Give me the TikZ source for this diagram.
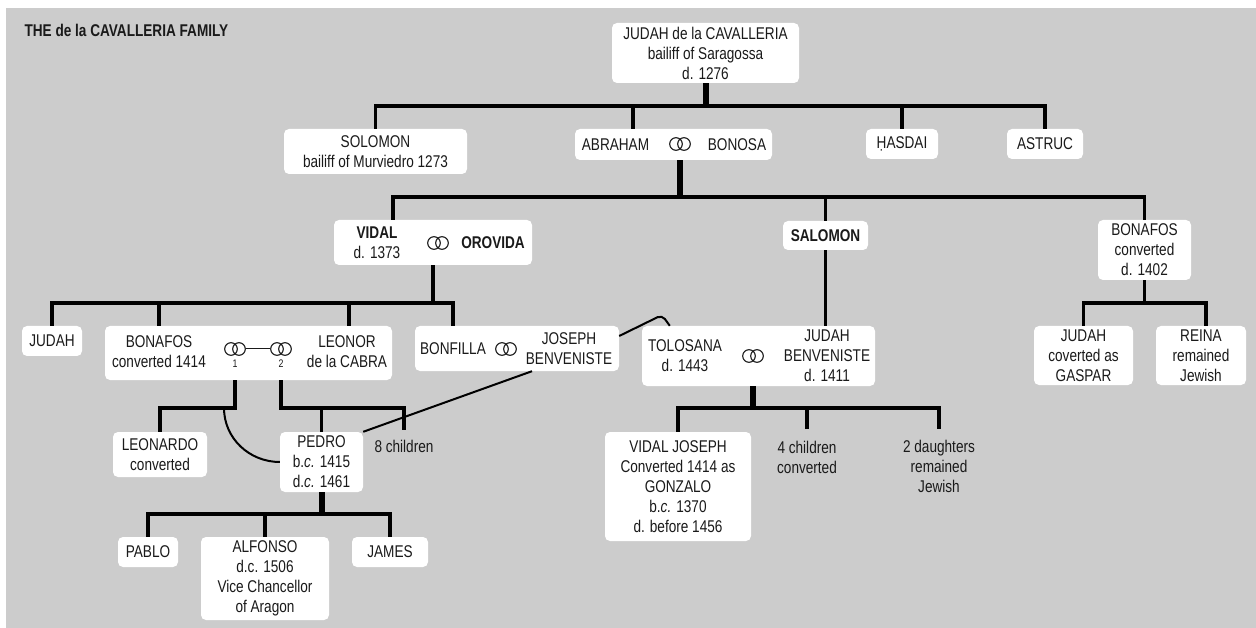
\documentclass[tikz,border=0pt]{standalone}
\usepackage{fontspec}
\setmainfont{Liberation Sans}[FakeStretch=0.8]
\usepackage{tikz}
\usetikzlibrary{positioning}
\definecolor{panel}{HTML}{CCCCCC}
\definecolor{ink}{HTML}{1A1A1A}
\tikzstyle{person} = [rectangle, rounded corners=5pt, fill=white, align=center, inner sep=0pt, text=ink, font=\fontsize{17}{20}\selectfont]
\tikzstyle{couple} = [rectangle, rounded corners=5pt, fill=white, inner sep=0pt]
\tikzstyle{who} = [align=center, inner sep=0pt, text=ink, font=\fontsize{17}{20}\selectfont]
\tikzstyle{rings} = [rectangle, minimum width=22pt, minimum height=15pt, inner sep=0pt, path picture={\draw[line width=1.1pt, ink] ([xshift=-4pt]path picture bounding box.center) circle (6.3pt) ([xshift=4pt]path picture bounding box.center) circle (6.3pt);}]
\tikzstyle{drop} = [line width=3.5pt, black]
\tikzstyle{trunk} = [line width=6pt, black]
\tikzstyle{tie} = [line width=2pt, black]

\begin{document}
\begin{tikzpicture}[x=1pt, y=-1pt]
	\useasboundingbox (0,0) rectangle (1256,628);
	\fill[panel] (6,8) rectangle (1256,628);

	\node (title) [anchor=west, text=ink, font=\bfseries\fontsize{17}{18}\selectfont] at (21,30) {THE de la CAVALLERIA FAMILY};

	% first generations
	\node (judah) [person, minimum width=187pt, minimum height=60pt] at (705.5,53) {JUDAH de la CAVALLERIA\\bailiff of Saragossa\\d. 1276};
	\node (solomon) [person, minimum width=183pt, minimum height=45pt] at (375.5,151.5) {SOLOMON\\bailiff of Murviedro 1273};
	\node (abrbox) [couple, minimum width=197pt, minimum height=31pt] at (673.5,144.5) {};
	\node (abraham) [who] at (615.5,145) {ABRAHAM};
	\node (abrR) [rings] at (680,144) {};
	\node (bonosa) [who] at (737,145) {BONOSA};
	\node (hasdai) [person, minimum width=72pt, minimum height=30pt] at (902,144) {ḤASDAI};
	\node (astruc) [person, minimum width=76pt, minimum height=30pt] at (1045,144) {ASTRUC};

	\node (vidalbox) [couple, minimum width=198pt, minimum height=45pt] at (433,242.5) {};
	\node (vidal) [who] at (377,243) {\textbf{VIDAL}\\d. 1373};
	\node (vidR) [rings] at (438,243) {};
	\node (orovida) [who, font=\bfseries\fontsize{17}{20}\selectfont] at (493,243) {OROVIDA};
	\node (salomon) [person, font=\bfseries\fontsize{17}{20}\selectfont, minimum width=85pt, minimum height=29pt] at (825.5,235.5) {SALOMON};
	\node (bonafos2) [person, minimum width=93pt, minimum height=60pt] at (1144.5,250) {BONAFOS\\converted\\d. 1402};

	% children of Vidal, Salomon and Bonafos
	\node (judah2) [person, minimum width=60pt, minimum height=30pt] at (52,341) {JUDAH};
	\node (bonleo) [couple, minimum width=287pt, minimum height=54pt] at (248.5,353) {};
	\node (bonafos1) [who] at (159,352) {BONAFOS\\converted 1414};
	\node (ring1) [rings] at (235,349) {};
	\node (ring2) [rings] at (281,349) {};
	\node (one) [who, font=\fontsize{11}{12}\selectfont, below=3pt of ring1] {1};
	\node (two) [who, font=\fontsize{11}{12}\selectfont, below=3pt of ring2] {2};
	\node (leonor) [who] at (347,352) {LEONOR\\de la CABRA};
	\node (bonjos) [couple, minimum width=204pt, minimum height=45pt] at (517,348.5) {};
	\node (bonfilla) [who] at (453,349) {BONFILLA};
	\node (bjR) [rings] at (506,349) {};
	\node (joseph) [who] at (569,348.5) {JOSEPH\\BENVENISTE};
	\node (tolbox) [couple, minimum width=233pt, minimum height=60pt] at (758.5,356) {};
	\node (tolosana) [who] at (685,356) {TOLOSANA\\d. 1443};
	\node (tjR) [rings] at (753,356) {};
	\node (judahb) [who] at (827,356) {JUDAH\\BENVENISTE\\d. 1411};
	\node (judah3) [person, minimum width=99pt, minimum height=59pt] at (1083.5,355.5) {JUDAH\\coverted as\\GASPAR};
	\node (reina) [person, minimum width=90pt, minimum height=59pt] at (1201,355.5) {REINA\\remained\\Jewish};

	% grandchildren
	\node (leonardo) [person, minimum width=94pt, minimum height=45pt] at (160,454.5) {LEONARDO\\converted};
	\node (pedro) [person, minimum width=83pt, minimum height=60pt] at (321.5,462) {PEDRO\\b.\textit{c.} 1415\\d.\textit{c.} 1461};
	\node (eight) [who] at (404,446) {8 children};
	\node (vidalj) [person, minimum width=146pt, minimum height=109pt] at (678,486.5) {VIDAL JOSEPH\\Converted 1414 as\\GONZALO\\b.\textit{c.} 1370\\d. before 1456};
	\node (four) [who] at (807,457.5) {4 children\\converted};
	\node (daughters) [who] at (939,466) {2 daughters\\remained\\Jewish};
	\node (pablo) [person, minimum width=60pt, minimum height=30pt] at (148,552) {PABLO};
	\node (alfonso) [person, minimum width=128pt, minimum height=83pt] at (265,578.5) {ALFONSO\\d.c. 1506\\Vice Chancellor\\of Aragon};
	\node (james) [person, minimum width=76pt, minimum height=30pt] at (390,552) {JAMES};
	\coordinate (kink) at (662,315);
	\coordinate (arcend) at (224,408);

	\draw [trunk] (judah.south) -- ++(0,23);
	\draw [drop] (solomon.north) -- ++(0,-23) -| (astruc.north);
	\draw [drop] ([xshift=-40.5pt]abrbox.north) -- ++(0,-23);
	\draw [drop] (hasdai.north) -- ++(0,-23);

	\draw [trunk] (abrR |- abrbox.south) -- ++(0,37);
	\draw [drop] ([xshift=-40pt]vidalbox.north) -- ++(0,-23) -| (bonafos2.north);
	\draw [drop] (salomon.north) -- ++(0,-24);
	\draw [drop] (salomon.south) -- (salomon |- tolbox.north);

	\draw [drop] (vidalbox.south) -- ++(0,38);
	\draw [drop] (judah2.north) -- ++(0,-23) -| (bonfilla |- bonjos.north);
	\draw [drop] (bonafos1 |- bonleo.north) -- ++(0,-23);
	\draw [drop] ([xshift=2pt]leonor |- bonleo.north) -- ++(0,-23);
	\draw [drop] (bonafos2.south) -- ++(0,23);
	\draw [drop] (judah3.north) -- ++(0,-23) -| ([xshift=5pt]reina.north);
	\draw [line width=1pt, ink] (ring1) -- (ring2);

	\draw [drop] (ring1 |- bonleo.south) -- ++(0,28) -| (leonardo.north);
	\draw [drop] (ring2 |- bonleo.south) -- ++(0,28) -| ([yshift=10pt]eight.north);
	\draw [drop] (pedro.north) -- ++(0,-24);
	\draw [tie] (pedro.west) to[out=180, in=-90] (arcend);
	\draw [tie, rounded corners=5pt] ([yshift=12.5pt]bonjos.east) -- (kink) -- ([xshift=28pt]tolbox.north west);
	\draw [tie] ([xshift=15pt]bonjos.south) -- (pedro.north east);

	\draw [trunk] (tjR |- tolbox.south) -- ++(0,22);
	\draw [drop] (vidalj.north) -- ++(0,-24) -| ([yshift=11pt]daughters.north);
	\draw [drop] ([yshift=12pt]four.north) -- ++(0,-22);

	\draw [trunk] (pedro.south) -- ++(0,22);
	\draw [drop] (pablo.north) -- ++(0,-23) -| (james.north);
	\draw [drop] (alfonso.north) -- ++(0,-23);

\end{tikzpicture}
\end{document}
